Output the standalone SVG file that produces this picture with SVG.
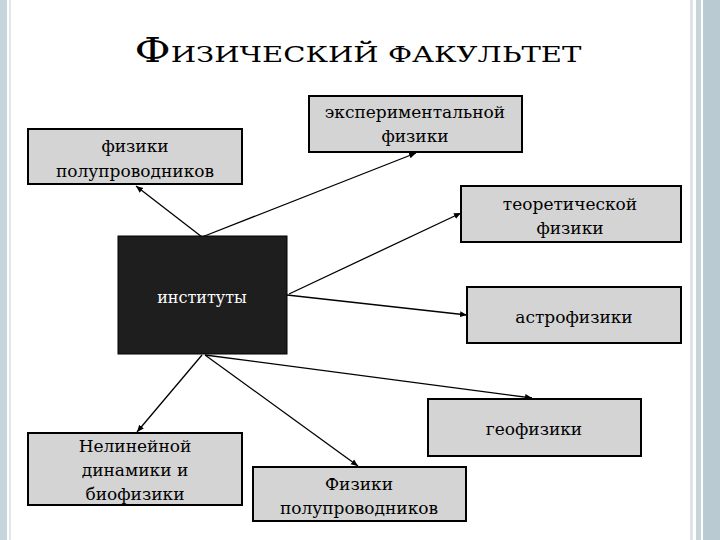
<svg xmlns="http://www.w3.org/2000/svg" width="720" height="540" viewBox="0 0 720 540">
<defs>
<style>
.box{fill:#d4d4d4;stroke:#000;stroke-width:2}
.t{font-family:"DejaVu Serif",serif;font-size:17px;fill:#000;text-anchor:middle}
.c line{stroke:#000;stroke-width:1.3;marker-end:url(#a)}
</style>
<marker id="a" markerWidth="8" markerHeight="8" refX="7" refY="4" orient="auto" markerUnits="userSpaceOnUse"><path d="M0,1 L7,4 L0,7 Z" fill="#000"/></marker>
</defs>
<rect width="720" height="540" fill="#fff"/>
<rect x="0" y="0" width="7" height="540" fill="#c6d4db"/>
<rect x="9" y="0" width="2" height="540" fill="#dfe7ec"/>
<rect x="690" y="0" width="3" height="540" fill="#dbe4ea"/>
<rect x="696" y="0" width="5" height="540" fill="#c6d4db"/>
<rect x="703" y="0" width="17" height="540" fill="#b9cad3"/>
<text x="358" y="62" font-family="DejaVu Serif,serif" font-size="22" text-anchor="middle" fill="#000" textLength="447" lengthAdjust="spacingAndGlyphs"><tspan font-size="33">Ф</tspan>ИЗИЧЕСКИЙ ФАКУЛЬТЕТ</text>
<g class="c">
<line x1="202" y1="237" x2="136" y2="186"/>
<line x1="202" y1="237" x2="416" y2="153"/>
<line x1="289" y1="294" x2="461" y2="213"/>
<line x1="287" y1="295" x2="467" y2="315"/>
<line x1="205" y1="355" x2="532" y2="398"/>
<line x1="202" y1="355" x2="137" y2="432"/>
<line x1="205" y1="355" x2="358" y2="466"/>
</g>
<g id="n1"><rect class="box" x="28" y="129" width="214" height="55"/><text class="t" x="135" y="152">физики</text><text class="t" x="135" y="177">полупроводников</text></g>
<g id="n2"><rect class="box" x="309" y="96" width="213" height="56"/><text class="t" x="415" y="118">экспериментальной</text><text class="t" x="415" y="142">физики</text></g>
<g id="n3"><rect class="box" x="461" y="186" width="220" height="56"/><text class="t" x="570" y="210">теоретической</text><text class="t" x="570" y="234">физики</text></g>
<g id="n0"><rect x="118" y="236" width="169" height="118" fill="#1e1e1e" stroke="#000" stroke-width="1"/><text x="202" y="303" font-family="DejaVu Serif,serif" font-size="16" fill="#fff" text-anchor="middle">институты</text></g>
<g id="n4"><rect class="box" x="467" y="287" width="214" height="56"/><text class="t" x="574" y="323">астрофизики</text></g>
<g id="n5"><rect class="box" x="428" y="399" width="213" height="57"/><text class="t" x="534" y="435">геофизики</text></g>
<g id="n6"><rect class="box" x="28" y="433" width="214" height="72"/><text class="t" x="135" y="452">Нелинейной</text><text class="t" x="135" y="476">динамики и</text><text class="t" x="135" y="500">биофизики</text></g>
<g id="n7"><rect class="box" x="253" y="467" width="213" height="54"/><text class="t" x="359" y="490">Физики</text><text class="t" x="359" y="514">полупроводников</text></g>
</svg>
